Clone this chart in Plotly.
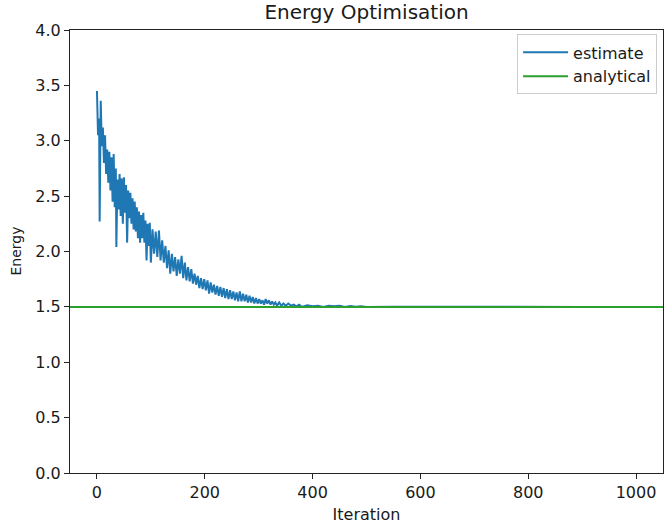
import plotly.graph_objects as go

# ---- data ----
iterations = [0, 2, 4, 5, 7, 9, 11, 13, 15, 17, 19, 21, 23, 25, 27, 29, 31, 33, 35, 36,
              38, 40, 42, 44, 46, 48, 50, 52, 54, 56, 58, 60, 62, 64, 66, 68, 70, 72, 74, 76,
              78, 80, 82, 84, 86, 88, 90, 92, 94, 96, 98, 100, 103, 106, 109, 112, 115, 118, 121, 124,
              127, 130, 133, 136, 139, 142, 145, 148, 151, 154, 157, 160, 163, 166, 169, 172, 175, 178, 181, 184,
              187, 190, 193, 196, 199, 202, 205, 208, 211, 214, 217, 220, 223, 226, 229, 232, 235, 238, 241, 244,
              247, 250, 253, 256, 259, 262, 265, 268, 271, 274, 277, 280, 283, 286, 289, 292, 295, 298, 301, 304,
              307, 310, 313, 316, 319, 322, 325, 328, 331, 334, 338, 342, 346, 350, 355, 360, 365, 370, 375, 380,
              390, 400, 410, 420, 430, 440, 450, 460, 470, 480, 490, 500, 550, 600, 650, 700, 750, 800, 850, 900,
              950, 999]
estimate = [3.45, 3.05, 3.20, 2.27, 3.36, 2.95, 3.12, 2.80, 3.05, 2.70, 2.92, 2.62, 2.90, 2.55, 2.85, 2.45, 2.88, 2.40, 2.75, 2.04,
            2.65, 2.38, 2.70, 2.32, 2.66, 2.25, 2.67, 2.35, 2.60, 2.08, 2.55, 2.30, 2.53, 2.25, 2.48, 2.20, 2.45, 2.18, 2.40, 2.12,
            2.36, 2.08, 2.33, 2.12, 2.35, 2.08, 2.28, 1.92, 2.25, 2.05, 2.26, 1.90, 2.20, 1.98, 2.18, 1.95, 2.19, 1.92, 2.10, 1.90,
            2.05, 1.85, 2.01, 1.80, 1.98, 1.82, 1.95, 1.78, 1.93, 1.80, 1.96, 1.76, 1.90, 1.74, 1.86, 1.73, 1.84, 1.71, 1.80, 1.70,
            1.78, 1.67, 1.76, 1.66, 1.75, 1.65, 1.74, 1.62, 1.72, 1.63, 1.70, 1.61, 1.69, 1.60, 1.68, 1.59, 1.67, 1.58, 1.66, 1.57,
            1.65, 1.57, 1.64, 1.56, 1.63, 1.55, 1.64, 1.55, 1.62, 1.55, 1.61, 1.54, 1.60, 1.54, 1.59, 1.53, 1.58, 1.53, 1.57, 1.53,
            1.56, 1.52, 1.57, 1.53, 1.56, 1.52, 1.55, 1.52, 1.54, 1.51, 1.54, 1.51, 1.53, 1.51, 1.53, 1.51, 1.52, 1.505, 1.52, 1.50,
            1.515, 1.505, 1.51, 1.50, 1.51, 1.505, 1.51, 1.50, 1.508, 1.502, 1.505, 1.50, 1.501, 1.50, 1.499, 1.50, 1.50, 1.50, 1.50, 1.50,
            1.50, 1.50]
analytical_value = 1.5
x_range = [-50, 1050]
y_range = [0, 4.0]
x_ticks = [0, 200, 400, 600, 800, 1000]
y_ticks = [0.0, 0.5, 1.0, 1.5, 2.0, 2.5, 3.0, 3.5, 4.0]

fig = go.Figure()
fig.add_trace(go.Scatter(x=iterations, y=estimate, mode="lines", name="estimate",
                         line=dict(color="#1f77b4", width=2)))
fig.add_trace(go.Scatter(x=x_range, y=[analytical_value, analytical_value], mode="lines",
                         name="analytical", line=dict(color="#2ca02c", width=2)))

font = "DejaVu Sans"
tick_size = 16
txt_color = "#1a1a1a"
axis_common = dict(showgrid=False, zeroline=False, showline=True, linecolor="#222222", linewidth=1,
                   mirror=True, ticks="outside", ticklen=5, tickwidth=1, tickcolor="#222222",
                   tickfont=dict(family=font, size=tick_size, color=txt_color))
fig.update_layout(
    width=664, height=524,
    margin=dict(l=70, r=1, t=30, b=51),
    paper_bgcolor="white", plot_bgcolor="white",
    title=dict(text="Energy Optimisation", x=(70 + 663) / 2 / 664, xanchor="center",
               y=1 - 12 / 524, yanchor="middle",
               font=dict(family=font, size=20, color=txt_color)),
    xaxis=dict(range=x_range, tickvals=x_ticks, ticktext=[str(t) for t in x_ticks],
               title=dict(text="Iteration", font=dict(family=font, size=16, color=txt_color), standoff=8),
               **axis_common),
    yaxis=dict(range=y_range, tickvals=y_ticks, ticktext=[f"{t:.1f}" for t in y_ticks],
               **axis_common),
    legend=dict(x=0.99, y=0.99, xanchor="right", yanchor="top", itemwidth=45,
                bgcolor="rgba(255,255,255,0.8)", bordercolor="#cccccc", borderwidth=1,
                font=dict(family=font, size=16, color=txt_color), tracegroupgap=0),
    showlegend=True,
)
fig.add_annotation(text="Energy", xref="paper", yref="paper", x=(15 - 70) / 593, y=0.5,
                   xanchor="center", yanchor="middle", textangle=-90, showarrow=False,
                   font=dict(family=font, size=14, color=txt_color))

fig.write_html("out.html", config={"displayModeBar": False},
               post_script="document.body.style.margin='0';")
